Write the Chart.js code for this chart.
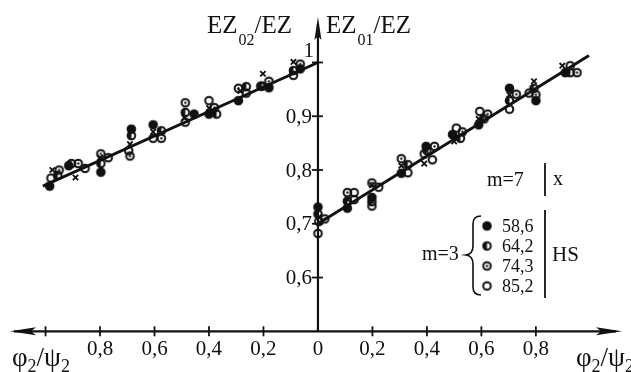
<!DOCTYPE html>
<html>
<head>
<meta charset="utf-8">
<script src="https://cdn.jsdelivr.net/npm/chart.js@4.4.1/dist/chart.umd.min.js"></script>
<style>
  html, body { margin: 0; padding: 0; background: #fff; }
  #wrap { width: 631px; height: 372px; }
</style>
</head>
<body>
<div id="wrap"><canvas id="chart" width="631" height="372"></canvas></div>
<script>
// tick values
const xTicks = [-1, -0.8, -0.6, -0.4, -0.2, 0.2, 0.4, 0.6, 0.8];
const xLabels = [-0.8, -0.6, -0.4, -0.2, 0, 0.2, 0.4, 0.6, 0.8];
const yTicks = [0.6, 0.7, 0.8, 0.9, 1];

// regression lines
const leftLine = [[-1.01, 0.77], [0, 1.0]];
const rightLine = [[0, 0.70], [0.995, 1.013]];

// measured points: m=7 (x)
const m7Pts = [
  [-0.975, 0.800], [-0.89, 0.786], [-0.80, 0.823], [-0.69, 0.848], [-0.605, 0.871],
  [-0.49, 0.897], [-0.40, 0.915], [-0.285, 0.947], [-0.202, 0.979], [-0.09, 1.001],
  [0.005, 0.713], [0.11, 0.745], [0.198, 0.772], [0.306, 0.808], [0.39, 0.812],
  [0.50, 0.853], [0.59, 0.895], [0.703, 0.940], [0.793, 0.965], [0.897, 0.994]
];
// m=3, HS 58,6 (filled)
const hs586Pts = [
  [-0.985, 0.770], [-0.915, 0.808], [-0.797, 0.796], [-0.685, 0.876], [-0.605, 0.884],
  [-0.455, 0.904], [-0.40, 0.904], [-0.292, 0.929], [-0.18, 0.953], [-0.065, 0.988],
  [0, 0.731], [0.108, 0.729], [0.198, 0.749], [0.306, 0.794], [0.397, 0.844],
  [0.494, 0.866], [0.59, 0.884], [0.703, 0.952], [0.80, 0.929], [0.908, 0.981]
];
// m=3, HS 64,2 (half filled)
const hs642Pts = [
  [-0.955, 0.790], [-0.905, 0.812], [-0.797, 0.812], [-0.685, 0.864], [-0.575, 0.873],
  [-0.487, 0.907], [-0.372, 0.904], [-0.263, 0.955], [-0.205, 0.956], [-0.09, 0.985],
  [0, 0.718], [0.108, 0.742], [0.198, 0.741], [0.33, 0.810], [0.40, 0.836],
  [0.523, 0.859], [0.61, 0.895], [0.703, 0.929], [0.793, 0.952], [0.926, 0.981]
];
// m=3, HS 74,3 (dotted circle)
const hs743Pts = [
  [-0.95, 0.800], [-0.88, 0.812], [-0.797, 0.830], [-0.69, 0.826], [-0.575, 0.859],
  [-0.487, 0.925], [-0.38, 0.916], [-0.292, 0.952], [-0.18, 0.965], [-0.065, 0.997],
  [0.003, 0.704], [0.025, 0.709], [0.108, 0.758], [0.198, 0.776], [0.306, 0.821],
  [0.428, 0.844], [0.53, 0.871], [0.623, 0.904], [0.728, 0.941], [0.80, 0.940], [0.951, 0.981]
];
// m=3, HS 85,2 (open circle)
const hs852Pts = [
  [-0.98, 0.785], [-0.855, 0.803], [-0.77, 0.823], [-0.695, 0.836], [-0.605, 0.859],
  [-0.487, 0.889], [-0.40, 0.929], [-0.263, 0.943], [-0.21, 0.956], [-0.09, 0.976],
  [0, 0.682], [0.133, 0.758], [0.133, 0.745], [0.198, 0.733], [0.223, 0.768],
  [0.33, 0.795], [0.39, 0.830], [0.42, 0.819], [0.508, 0.878], [0.594, 0.909],
  [0.703, 0.913], [0.775, 0.943], [0.926, 0.994]
];

const FONT = '"Liberation Serif", "DejaVu Serif", serif';
const INK = '#111';

function marker(kind, r) {
  const s = Math.ceil(r * 2 + 5);
  const c = document.createElement('canvas');
  c.width = s; c.height = s;
  const g = c.getContext('2d');
  const m = s / 2;
  g.fillStyle = INK; g.strokeStyle = INK; g.lineWidth = 2;
  if (kind === 'filled') {
    g.beginPath(); g.arc(m, m, r, 0, Math.PI * 2); g.fill();
  } else if (kind === 'half') {
    g.beginPath(); g.arc(m, m, r, Math.PI / 2, Math.PI * 1.5); g.closePath(); g.fill();
  } else if (kind === 'dot') {
    g.beginPath(); g.arc(m, m, 1.2, 0, Math.PI * 2); g.fill();
  }
  g.beginPath(); g.arc(m, m, r, 0, Math.PI * 2); g.stroke();
  return c;
}

const mkFilled = marker('filled', 3.8);
const mkHalf = marker('half', 3.8);
const mkDot = marker('dot', 3.8);
const mkOpen = marker('open', 3.8);

const toXY = arr => arr.map(p => ({ x: p[0], y: p[1] }));
const fmt = v => {
  if (v === 0) return '0';
  if (Math.abs(v) === 1) return '1';
  return Math.abs(v).toFixed(1).replace('.', ',');
};

function drawParts(ctx, x, y, parts) {
  let cx = x;
  parts.forEach(p => {
    ctx.font = p[1];
    ctx.fillText(p[0], cx, y + (p[2] || 0));
    cx += ctx.measureText(p[0]).width + (p[3] || 0);
  });
}

const axesPlugin = {
  id: 'axes',
  beforeDatasetsDraw(chart) {
    const ctx = chart.ctx;
    const xs = chart.scales.x, ys = chart.scales.y;
    const x0 = xs.getPixelForValue(0);
    const yb = ys.getPixelForValue(0.5);
    ctx.save();
    ctx.strokeStyle = INK; ctx.fillStyle = INK;
    // x axis
    ctx.lineWidth = 2.2;
    ctx.beginPath(); ctx.moveTo(14, yb); ctx.lineTo(616, yb); ctx.stroke();
    ctx.beginPath(); ctx.moveTo(10, yb); ctx.lineTo(36, yb - 4); ctx.lineTo(31, yb); ctx.lineTo(36, yb + 4); ctx.closePath(); ctx.fill();
    ctx.beginPath(); ctx.moveTo(622, yb); ctx.lineTo(596, yb - 4); ctx.lineTo(601, yb); ctx.lineTo(596, yb + 4); ctx.closePath(); ctx.fill();
    // y axis
    ctx.beginPath(); ctx.moveTo(x0, yb); ctx.lineTo(x0, 24); ctx.stroke();
    ctx.beginPath(); ctx.moveTo(x0, 17); ctx.lineTo(x0 - 3.5, 40); ctx.lineTo(x0, 36); ctx.lineTo(x0 + 3.5, 40); ctx.closePath(); ctx.fill();
    // ticks
    ctx.lineWidth = 1.8;
    xTicks.forEach(v => {
      const px = xs.getPixelForValue(v);
      ctx.beginPath(); ctx.moveTo(px, yb - 5); ctx.lineTo(px, yb + 5); ctx.stroke();
    });
    yTicks.forEach(v => {
      const py = ys.getPixelForValue(v);
      ctx.beginPath(); ctx.moveTo(x0 - 6, py); ctx.lineTo(x0 + 5, py); ctx.stroke();
    });
    // tick labels
    ctx.font = '21px ' + FONT;
    ctx.textAlign = 'center'; ctx.textBaseline = 'alphabetic';
    xLabels.forEach(v => ctx.fillText(fmt(v), xs.getPixelForValue(v), yb + 24));
    ctx.textAlign = 'right';
    yTicks.forEach(v => {
      const py = ys.getPixelForValue(v);
      if (v === 1) { ctx.textBaseline = 'alphabetic'; ctx.fillText('1', x0 - 4, py - 5); }
      else { ctx.textBaseline = 'middle'; ctx.fillText(fmt(v), x0 - 6, py + 1); }
    });
    ctx.restore();
  },
  afterDraw(chart) {
    const ctx = chart.ctx;
    ctx.save();
    ctx.fillStyle = INK; ctx.strokeStyle = INK;
    ctx.textAlign = 'left'; ctx.textBaseline = 'alphabetic';
    const big = '25px ' + FONT, sub = '16px ' + FONT;
    // axis titles
    drawParts(ctx, 207, 33, [['EZ', big, 0, 1], ['02', sub, 12], ['/', big, 0], ['EZ', big, 0]]);
    drawParts(ctx, 326, 33, [['EZ', big, 0, 1], ['01', sub, 12], ['/', big, 0], ['EZ', big, 0]]);
    const ph = '27px ' + FONT, phs = '18px ' + FONT;
    drawParts(ctx, 12, 366, [['\u03c6', ph, 0], ['2', phs, 6], ['/', ph, 0], ['\u03c8', ph, 0], ['2', phs, 6]]);
    drawParts(ctx, 576, 366, [['\u03c6', ph, 0], ['2', phs, 6], ['/', ph, 0], ['\u03c8', ph, 0], ['2', phs, 6]]);
    // legend
    ctx.font = '20px ' + FONT;
    ctx.fillText('m=7', 487, 186);
    ctx.fillText('m=3', 422, 260);
    ctx.fillText('x', 553, 185);
    ctx.font = '21px ' + FONT;
    ctx.fillText('HS', 552, 261);
    ctx.lineWidth = 1.8;
    ctx.beginPath(); ctx.moveTo(545, 163); ctx.lineTo(545, 196); ctx.stroke();
    ctx.beginPath(); ctx.moveTo(545, 210); ctx.lineTo(545, 298); ctx.stroke();
    // brace
    ctx.lineWidth = 1.6;
    ctx.beginPath();
    ctx.moveTo(481, 216);
    ctx.quadraticCurveTo(473, 216, 473, 224);
    ctx.lineTo(473, 246);
    ctx.quadraticCurveTo(473, 254, 466, 255);
    ctx.quadraticCurveTo(473, 256, 473, 264);
    ctx.lineTo(473, 287);
    ctx.quadraticCurveTo(473, 295, 481, 295);
    ctx.stroke();
    const rows = [[mkFilled, '58,6', 226], [mkHalf, '64,2', 246], [mkDot, '74,3', 266], [mkOpen, '85,2', 286]];
    ctx.font = '18px ' + FONT;
    ctx.textBaseline = 'middle';
    rows.forEach(r => {
      const img = r[0];
      ctx.drawImage(img, 487 - img.width / 2, r[2] - img.height / 2);
      ctx.fillText(r[1], 502, r[2] + 1);
    });
    ctx.restore();
  }
};

const lineDs = pts => ({
  type: 'line', data: toXY(pts), borderColor: INK, borderWidth: 2.8,
  pointRadius: 0, fill: false, tension: 0, order: 2
});
const ptDs = (label, pts, style, extra) => Object.assign({
  type: 'scatter', label: label, data: toXY(pts), pointStyle: style,
  pointRadius: 4, pointHoverRadius: 4, backgroundColor: INK, borderColor: INK, order: 1
}, extra || {});

new Chart(document.getElementById('chart'), {
  data: {
    datasets: [
      lineDs(leftLine),
      lineDs(rightLine),
      ptDs('HS 85,2', hs852Pts, mkOpen),
      ptDs('HS 74,3', hs743Pts, mkDot),
      ptDs('HS 64,2', hs642Pts, mkHalf),
      ptDs('HS 58,6', hs586Pts, mkFilled),
      ptDs('m=7', m7Pts, 'crossRot', { pointRadius: 3.8, borderWidth: 1.8 })
    ]
  },
  options: {
    responsive: false,
    animation: false,
    devicePixelRatio: 1,
    layout: { padding: 0 },
    plugins: { legend: { display: false }, tooltip: { enabled: false } },
    scales: {
      x: { type: 'linear', display: false, min: -1.1459, max: 1.1279 },
      y: { type: 'linear', display: false, min: 0.4351, max: 1.1054 }
    }
  },
  plugins: [axesPlugin]
});
</script>
</body>
</html>
